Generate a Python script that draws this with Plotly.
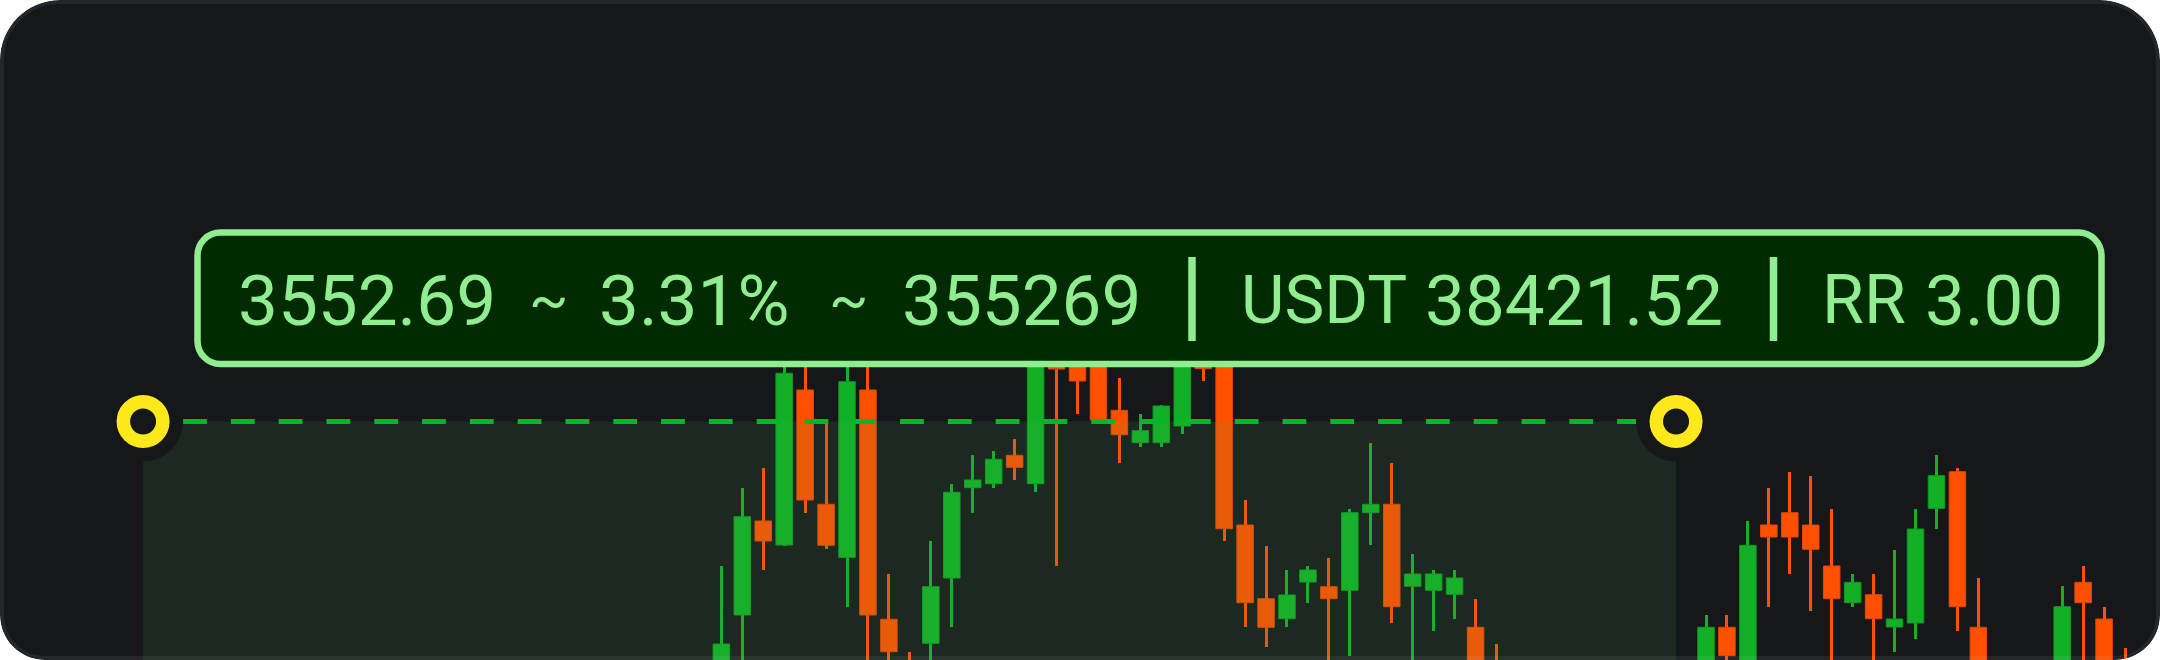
import plotly.graph_objects as go

W, H = 2160, 660

# ---- candle data (index, open, high, low, close) ----
idx = [0, 1, 2, 3, 4, 5, 6, 7, 8, 9, 10, 11, 12, 13, 14, 15, 16, 17, 18, 19,
       20, 21, 22, 23, 24, 25, 26, 27, 28, 29, 30, 31, 32, 33, 34, 35, 36, 37,
       47, 48, 49, 50, 51, 52, 53, 54, 55, 56, 57, 58, 59, 60, 64, 65, 66, 67]
opens = [108400, 108950, 109890, 109650, 111200, 110057, 109527, 111200, 108907, 108420,
         108667, 109320, 110223, 110263, 110547, 110263, 111900, 111500, 111500, 110997,
         110673, 110673, 110840, 111550, 111450, 109850, 109113, 108913, 109280, 109233,
         109197, 109973, 110057, 109237, 109197, 109157, 108827, 108400,
         108300, 108827, 108200, 109850, 109973, 109850, 109440, 109073, 109153, 108830,
         108870, 110017, 110383, 108827, 108300, 109277, 108910, 108400]
highs = [109440, 110220, 110423, 111600, 111700, 110873, 111650, 111600, 109357, 108580,
         109687, 110257, 110547, 110590, 110710, 112100, 112000, 111800, 111700, 111323,
         110957, 111050, 111900, 111700, 111550, 110097, 109643, 109400, 109440, 109523,
         110013, 110670, 110467, 109563, 109400, 109400, 109113, 108660,
         108947, 108947, 109890, 110223, 110383, 110340, 110013, 109360, 109360, 109603,
         110013, 110547, 110423, 109317, 109237, 109440, 109033, 108623]
lows = [108200, 108300, 109400, 109640, 109973, 109607, 109033, 108100, 108200, 108100,
        108250, 108827, 109973, 110223, 110303, 110180, 109440, 110960, 110890, 110467,
        110633, 110633, 110757, 111290, 109690, 108827, 108627, 108827, 109073, 108300,
        108543, 109647, 108867, 108400, 108787, 108913, 108100, 108100,
        108100, 108300, 108100, 109033, 109360, 108993, 108300, 109033, 108300, 108583,
        108707, 109810, 108787, 108100, 108100, 108300, 108100, 108100]
closes = [108660, 109933, 109690, 111367, 110100, 109647, 111283, 108950, 108583, 108300,
          109233, 110177, 110300, 110507, 110427, 111800, 111410, 111290, 110900, 110753,
          110793, 111040, 111700, 111413, 109813, 109073, 108827, 109150, 109400, 109113,
          109973, 110057, 109033, 109360, 109360, 109320, 108200, 108200,
          108827, 108543, 109647, 109730, 109730, 109607, 109113, 109277, 108913, 108910,
          109810, 110343, 109033, 108300, 109033, 109073, 108300, 108200]

# ---- position tool values ----
target_price = 110885
profit_points = 3552.69
entry_price = target_price - profit_points
pct_move = 3.31
ticks_move = 355269
usdt_value = 38421.52
risk_reward = 3.00
start_idx = -27.6
end_idx = 45.57

x_range = [-34.43, 68.67]
y_range = [108500, 115100]

# ---- colours ----
BG = "#16171B"
UP = "#12B026"
DOWN = "#FF5000"
UP_EDGE = "#0F9A20"
DOWN_EDGE = "#E44800"
LABEL = "#90EE90"
LABEL_BG = "#002A00"
YELLOW = "#FFE81C"
DASH = "#00B828"

px_x = W / (x_range[1] - x_range[0])   # pixels per index unit
px_y = H / (y_range[1] - y_range[0])   # pixels per price unit


def dx(p):
    return p / px_x


def dy(p):
    return p / px_y


def to_paper(x, y):
    return x / W, 1 - y / H


def rr_path(x0, y0, x1, y1, rt, rb=None):
    if rb is None:
        rb = rt
    kt, kb = 0.5523 * rt, 0.5523 * rb
    pts = [
        ("M", [(x0 + rt, y0)]),
        ("L", [(x1 - rt, y0)]),
        ("C", [(x1 - rt + kt, y0), (x1, y0 + rt - kt), (x1, y0 + rt)]),
        ("L", [(x1, y1 - rb)]),
        ("C", [(x1, y1 - rb + kb), (x1 - rb + kb, y1), (x1 - rb, y1)]),
        ("L", [(x0 + rb, y1)]),
        ("C", [(x0 + rb - kb, y1), (x0, y1 - rb + kb), (x0, y1 - rb)]),
        ("L", [(x0, y0 + rt)]),
        ("C", [(x0, y0 + rt - kt), (x0 + rt - kt, y0), (x0 + rt, y0)]),
    ]
    s = ""
    for cmd, ps in pts:
        s += cmd + " " + " ".join("%.6f,%.6f" % to_paper(px, py) for px, py in ps) + " "
    return s + "Z"


colors = [UP if c >= o else DOWN for o, c in zip(opens, closes)]
edges = [UP_EDGE if c >= o else DOWN_EDGE for o, c in zip(opens, closes)]

fig = go.Figure()
# wicks
fig.add_trace(go.Bar(
    x=idx, y=[h - l for h, l in zip(highs, lows)], base=lows,
    width=dx(3), marker=dict(color=colors, line=dict(width=0)),
    hoverinfo="skip", showlegend=False))
# bodies
fig.add_trace(go.Bar(
    x=idx, y=[max(abs(c - o), 10) for o, c in zip(opens, closes)],
    base=[min(o, c) for o, c in zip(opens, closes)],
    width=dx(16.5), marker=dict(color=colors, line=dict(width=1, color=edges)),
    hoverinfo="skip", showlegend=False))

shapes = []
# card background
card = rr_path(0, 0, W, H, 60, 45)
shapes.append(dict(type="path", path=card, xref="paper", yref="paper",
                   fillcolor=BG, line=dict(width=0), layer="below"))
# profit zone
shapes.append(dict(type="rect", xref="x", yref="y", x0=start_idx, x1=end_idx,
                   y0=entry_price, y1=target_price, fillcolor="rgba(76,175,80,0.12)",
                   line=dict(width=0), layer="above"))
# target dashed line
shapes.append(dict(type="line", xref="x", yref="y", x0=start_idx + dx(40), x1=end_idx - dx(40),
                   y0=target_price, y1=target_price,
                   line=dict(color=DASH, width=5, dash="23.8px,24px"), layer="above"))
# halos and rings
for cx in (start_idx, end_idx):
    for r, col in ((40, BG), (26.5, YELLOW), (13, BG)):
        shapes.append(dict(type="circle", xref="x", yref="y",
                           x0=cx - dx(r), x1=cx + dx(r),
                           y0=target_price - dy(r), y1=target_price + dy(r),
                           fillcolor=col, line=dict(width=0), layer="above"))
# white outside corners
frame = "M 0,0 L 1,0 L 1,1 L 0,1 Z " + card
shapes.append(dict(type="path", path=frame, xref="paper", yref="paper",
                   fillcolor="#FFFFFF", fillrule="evenodd", line=dict(width=0), layer="above"))
# card border
shapes.append(dict(type="path", path=rr_path(2, 2, W - 2, H - 2, 58, 43), xref="paper", yref="paper",
                   fillcolor="rgba(0,0,0,0)", line=dict(color="rgba(200,220,230,0.08)", width=4),
                   layer="above"))
# label box
shapes.append(dict(type="path", path=rr_path(197.5, 232.5, 2101.5, 364, 23), xref="paper", yref="paper",
                   fillcolor=LABEL_BG, line=dict(color=LABEL, width=6.5), layer="above"))
for sx in (1192, 1773.5):
    x0p, y0p = to_paper(sx, 257)
    _, y1p = to_paper(sx, 341)
    shapes.append(dict(type="line", xref="paper", yref="paper", x0=x0p, x1=x0p, y0=y0p, y1=y1p,
                       line=dict(color=LABEL, width=7.5), layer="above"))

# text pieces: (text, x pixel, anchor, size, y pixel)
pieces = [
    (f"{profit_points:.2f}", 236, "left", 71, 300),
    ("~", 548, "center", 58, 299),
    (f"{pct_move:.2f}%", 597, "left", 71, 300),
    ("~", 848, "center", 58, 299),
    (f"{ticks_move}", 900, "left", 71, 300),
    ("USDT", 1239, "left", 67, 300),
    (f"{usdt_value:.2f}", 1423, "left", 71, 300),
    ("RR", 1820, "left", 68, 300),
    (f"{risk_reward:.2f}", 1923, "left", 71, 300),
]
annotations = []
for txt, px, anc, size, py in pieces:
    xp, yp = to_paper(px, py)
    annotations.append(dict(text=txt, x=xp, y=yp, xref="paper", yref="paper",
                            xanchor=anc, yanchor="middle", showarrow=False,
                            font=dict(family="Roboto", size=size, color=LABEL, weight=400)))

fig.update_layout(
    width=W, height=H, autosize=False,
    margin=dict(l=0, r=0, t=0, b=0, pad=0),
    paper_bgcolor="#FFFFFF", plot_bgcolor="rgba(0,0,0,0)",
    barmode="overlay", bargap=0,
    xaxis=dict(range=x_range, visible=False, showgrid=False, zeroline=False, fixedrange=True),
    yaxis=dict(range=y_range, visible=False, showgrid=False, zeroline=False, fixedrange=True),
    shapes=shapes, annotations=annotations, showlegend=False,
)

fig.write_html("out.html", config={"displayModeBar": False, "staticPlot": True},
               post_script="document.body.style.margin='0';document.body.style.overflow='hidden';")
